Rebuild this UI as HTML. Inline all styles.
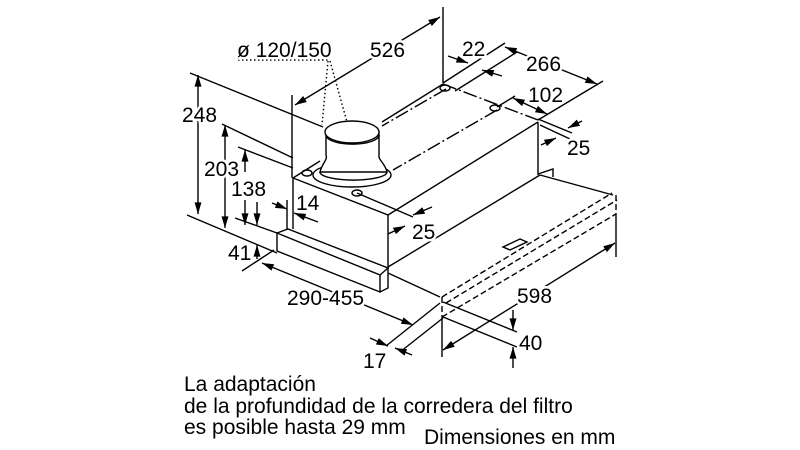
<!DOCTYPE html>
<html><head><meta charset="utf-8"><style>
html,body{margin:0;padding:0;background:#fff;}
svg{display:block}
text{font-family:"Liberation Sans",Arial,sans-serif;fill:#000}
.h text{stroke:#fff;stroke-width:5px;paint-order:stroke;stroke-linejoin:round}
</style></head><body>
<svg width="800" height="450" viewBox="0 0 800 450" xmlns="http://www.w3.org/2000/svg">
<defs>
<marker id="a" viewBox="0 0 10 6" refX="10" refY="3" markerWidth="13" markerHeight="7" markerUnits="userSpaceOnUse" orient="auto-start-reverse"><path d="M0,0 L10,3 L0,6z" fill="#000"/></marker>
</defs>
<g stroke="#000" stroke-width="1.4" fill="none">
<line x1="190" y1="73" x2="323" y2="127"/>
<line x1="187" y1="215" x2="277" y2="253"/>
<line x1="222" y1="124" x2="293" y2="158"/>
<line x1="238" y1="147" x2="293" y2="168"/>
<line x1="235" y1="218" x2="277" y2="233"/>
<line x1="242" y1="271" x2="274" y2="250"/>
<line x1="292" y1="95" x2="292" y2="178"/>
<line x1="287" y1="200" x2="287" y2="230"/>
<line x1="293" y1="178" x2="388" y2="215"/>
<line x1="388" y1="215" x2="538" y2="122"/>
<line x1="293" y1="178" x2="320" y2="161"/>
<line x1="382" y1="122" x2="443" y2="84"/>
<line x1="443" y1="84" x2="538" y2="120" stroke-dasharray="14,3,2,3"/>
<line x1="293" y1="178" x2="293" y2="229"/>
<line x1="388" y1="215" x2="388" y2="267"/>
<line x1="538" y1="122" x2="538" y2="175"/>
<line x1="388" y1="267" x2="540" y2="175"/>
<line x1="540" y1="175" x2="613" y2="195"/>
<polyline points="538,174 553,169 553,177"/>
<polygon points="277,233 380,275 380,292 277,251" fill="#fff"/>
<polyline points="277,233 288,229 388,268 380,275"/>
<polyline points="380,292 388,288 388,268"/>
<line x1="388" y1="273" x2="440" y2="297"/>
<g stroke-dasharray="6,3">
<line x1="442" y1="297" x2="612" y2="193"/>
<line x1="446" y1="303" x2="617" y2="200"/>
<line x1="442" y1="317" x2="616" y2="214"/>
<line x1="442" y1="297" x2="442" y2="317"/>
<line x1="616" y1="195" x2="616" y2="214"/>
</g>
<polygon points="503,247 520,239 527,242 510,250"/>
<line x1="497" y1="110" x2="393" y2="170" stroke-dasharray="14,3,2,3"/>
<line x1="446" y1="89" x2="382" y2="126" stroke-dasharray="14,3,2,3"/>
<line x1="357" y1="193" x2="413" y2="217"/>
<ellipse cx="352" cy="175" rx="39" ry="12" fill="#fff"/>
<path d="M320,172 C322,163 328,160 326,155 L326,132 L379,132 L379,155 C378,160 385,163 387,172 Z" fill="#fff"/>
<path d="M320,172 A33,8 0 0 0 387,172"/>
<ellipse cx="352" cy="132" rx="27" ry="11" fill="#fff"/>
<path d="M326,135 A26,9 0 0 0 379,135"/>
<ellipse cx="307" cy="173" rx="5" ry="3"/>
<ellipse cx="357" cy="193" rx="5" ry="3"/>
<ellipse cx="445" cy="88" rx="5" ry="3"/>
<ellipse cx="495" cy="108" rx="5" ry="3"/>
<g stroke-dasharray="1.5,2.5" stroke-width="1.4">
<line x1="238" y1="60" x2="328" y2="60"/>
<line x1="328" y1="61" x2="322" y2="125"/>
<line x1="330" y1="61" x2="347" y2="122"/>
</g>
<line x1="443" y1="83" x2="505" y2="43"/>
<line x1="455" y1="91" x2="517" y2="52"/>
<line x1="497" y1="107" x2="515" y2="96"/>
<line x1="538" y1="120" x2="603" y2="81"/>
<line x1="538" y1="119" x2="572" y2="133"/>
<line x1="540" y1="125" x2="570" y2="139"/>
<line x1="443" y1="7" x2="443" y2="83"/>
<line x1="616" y1="214" x2="616" y2="257"/>
<line x1="442" y1="317" x2="442" y2="357"/>
<line x1="443" y1="302" x2="517" y2="332"/>
<line x1="443" y1="317" x2="517" y2="347"/>
<line x1="440" y1="303" x2="386" y2="346"/>
<line x1="443" y1="318" x2="400" y2="352"/>
<g marker-start="url(#a)" marker-end="url(#a)">
<line x1="198" y1="75" x2="198" y2="214"/>
<line x1="225" y1="125" x2="225" y2="228"/>
<line x1="295" y1="105" x2="440" y2="17"/>
<line x1="262" y1="263" x2="413" y2="325"/>
<line x1="443" y1="350" x2="615" y2="243"/>
<line x1="505" y1="47" x2="597" y2="84"/>
<line x1="513" y1="98" x2="547" y2="114"/>
</g>
<g marker-end="url(#a)">
<line x1="245" y1="172" x2="245" y2="150"/>
<line x1="245" y1="200" x2="245" y2="225"/>
<line x1="257" y1="202" x2="257" y2="225"/>
<line x1="257" y1="259" x2="257" y2="245"/>
<line x1="272" y1="203" x2="287" y2="209"/>
<line x1="318" y1="222" x2="294" y2="213"/>
<line x1="432" y1="207" x2="413" y2="215"/>
<line x1="388" y1="234" x2="405" y2="226"/>
<line x1="448" y1="56" x2="468" y2="63"/>
<line x1="502" y1="76" x2="482" y2="70"/>
<line x1="582" y1="121" x2="568" y2="128"/>
<line x1="541" y1="145" x2="556" y2="138"/>
<line x1="513" y1="310" x2="513" y2="330"/>
<line x1="513" y1="368" x2="513" y2="347"/>
<line x1="370" y1="338" x2="388" y2="346"/>
<line x1="412" y1="355" x2="395" y2="348"/>
</g>
</g>
<g font-size="21" class="h">
<text x="237" y="57">ø 120/150</text>
<text x="370" y="57">526</text>
<text x="462" y="56">22</text>
<text x="526" y="71">266</text>
<text x="528" y="102">102</text>
<text x="567" y="155">25</text>
<text x="182" y="122">248</text>
<text x="204" y="176">203</text>
<text x="231" y="196">138</text>
<text x="296" y="210">14</text>
<text x="412" y="239">25</text>
<text x="228" y="260">41</text>
<text x="287" y="305">290-455</text>
<text x="517" y="303">598</text>
<text x="519" y="350">40</text>
<text x="363" y="368">17</text>
</g>
<g font-size="21">
<text x="184" y="391">La adaptación</text>
<text x="184" y="413">de la profundidad de la corredera del filtro</text>
<text x="184" y="434">es posible hasta 29 mm</text>
<text x="424" y="444">Dimensiones en mm</text>
</g>
</svg>
</body></html>
